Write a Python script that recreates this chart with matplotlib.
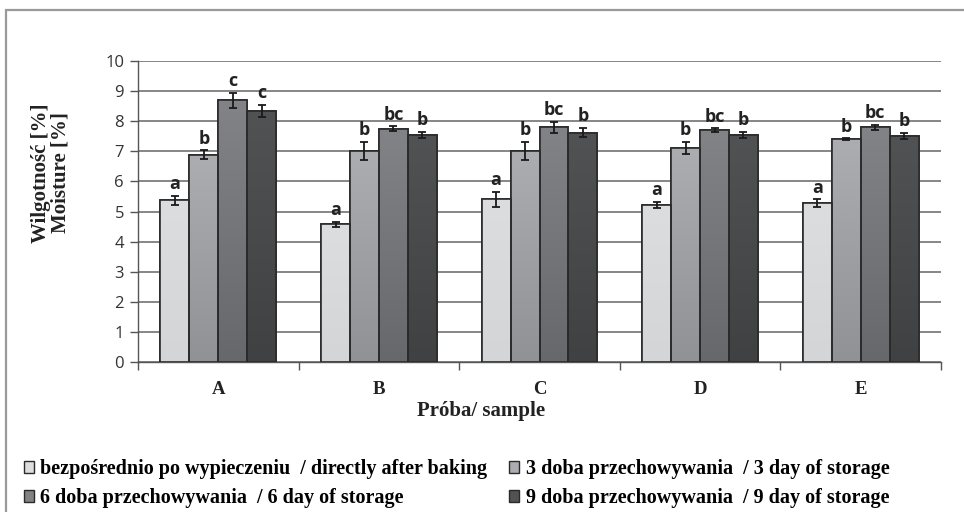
import numpy as np
import matplotlib
matplotlib.use("Agg")
import matplotlib.pyplot as plt
from matplotlib.patches import Rectangle, Patch
from matplotlib.colors import LinearSegmentedColormap

# Samples and storage stages
samples = ["A", "B", "C", "D", "E"]
series_labels = [
    "bezpośrednio po wypieczeniu  / directly after baking",
    "3 doba przechowywania  / 3 day of storage",
    "6 doba przechowywania  / 6 day of storage",
    "9 doba przechowywania  / 9 day of storage",
]

# Moisture [%] per stage (rows) and sample (columns)
moisture_0d = [5.37, 4.57, 5.40, 5.23, 5.28]
moisture_3d = [6.88, 7.00, 7.02, 7.12, 7.40]
moisture_6d = [8.70, 7.75, 7.80, 7.70, 7.80]
moisture_9d = [8.35, 7.55, 7.62, 7.55, 7.52]

sd_0d = [0.15, 0.08, 0.25, 0.10, 0.12]
sd_3d = [0.15, 0.30, 0.30, 0.20, 0.03]
sd_6d = [0.25, 0.08, 0.18, 0.06, 0.08]
sd_9d = [0.20, 0.10, 0.15, 0.10, 0.10]

letters_0d = ["a", "a", "a", "a", "a"]
letters_3d = ["b", "b", "b", "b", "b"]
letters_6d = ["c", "bc", "bc", "bc", "bc"]
letters_9d = ["c", "b", "b", "b", "b"]

values = [moisture_0d, moisture_3d, moisture_6d, moisture_9d]
errors = [sd_0d, sd_3d, sd_6d, sd_9d]
letters = [letters_0d, letters_3d, letters_6d, letters_9d]

# (top colour, bottom colour) for each series gradient
shades = [
    ("#dcdddf", "#d4d5d7"),
    ("#acadb0", "#919295"),
    ("#828386", "#67686b"),
    ("#515254", "#404143"),
]

fig = plt.figure(figsize=(9.64, 5.12), dpi=100)

# outer frame of the chart area
frame = Rectangle((6 / 964, -0.2), 1.2, 1.2 - 10 / 512,
                  transform=fig.transFigure, fill=False,
                  edgecolor="#9a9a9a", linewidth=1.6, zorder=0)
fig.patches.append(frame)

ax = fig.add_axes([138 / 964, 1 - 362 / 512, 803 / 964, 301 / 512])

x = np.arange(len(samples))
bar_w = 0.18
offsets = (np.arange(4) - 1.5) * bar_w

sans = ["Open Sans", "DejaVu Sans"]
serif = ["Liberation Serif", "DejaVu Serif"]

for i in range(4):
    cmap = LinearSegmentedColormap.from_list(f"s{i}", [shades[i][1], shades[i][0]])
    bars = ax.bar(x + offsets[i], values[i], width=bar_w, color=shades[i][0],
                  edgecolor="#2a2a2a", linewidth=1.2, zorder=3)
    for b in bars:
        x0, y0 = b.get_x(), b.get_y()
        w, h = b.get_width(), b.get_height()
        grad = np.linspace(0, 1, 64).reshape(-1, 1)
        im = ax.imshow(grad, cmap=cmap, origin="lower", aspect="auto",
                       extent=(x0, x0 + w, y0, y0 + h), zorder=3.1,
                       interpolation="bicubic")
        im.set_clip_path(b)
        ax.add_patch(Rectangle((x0, y0), w, h, fill=False,
                               edgecolor="#2a2a2a", linewidth=1.2, zorder=3.2))
    ax.errorbar(x + offsets[i], values[i], yerr=errors[i], fmt="none",
                ecolor="#1a1a1a", elinewidth=1.3, capsize=3.2, capthick=1.3,
                zorder=4)
    for xi, v, e, t in zip(x + offsets[i], values[i], errors[i], letters[i]):
        ax.annotate(t, (xi, v + e), xytext=(0, 2), textcoords="offset points",
                    ha="center", va="bottom", fontsize=13, fontweight="bold",
                    family=sans, color="#222222", zorder=5)

ax.set_xlim(-0.5, len(samples) - 0.5)
ax.set_ylim(0, 10)
ax.set_yticks(np.arange(0, 11, 1))
ax.yaxis.grid(True, color="#7d7d7d", linewidth=1.3, zorder=0)
ax.set_axisbelow(True)

for s in ["top", "right"]:
    ax.spines[s].set_visible(False)
ax.spines["left"].set_color("#555555")
ax.spines["bottom"].set_color("#555555")
ax.spines["left"].set_linewidth(1.0)
ax.spines["bottom"].set_linewidth(1.0)

ax.tick_params(axis="y", length=6, width=1.0, color="#555555", labelsize=12,
               labelcolor="#333333", pad=4)
for lab in ax.get_yticklabels():
    lab.set_family(sans)

# category labels centred, tick marks between groups
ax.set_xticks(np.arange(-0.5, len(samples) + 0.5, 1))
ax.set_xticklabels([])
ax.tick_params(axis="x", length=6, width=1.0, color="#555555")
ax.set_xticks(x, minor=True)
ax.set_xticklabels(samples, minor=True, fontsize=13.5, fontweight="bold",
                   family=serif, color="#222222")
ax.tick_params(axis="x", which="minor", length=0, pad=14)

ax.set_xlabel("Próba/ sample", fontsize=15, fontweight="bold",
              family=serif, color="#222222", labelpad=2)
ax.xaxis.label.set_x((481 - 138) / 803)

fig.text(51 / 964, 1 - 173 / 512, "Wilgotność [%]\nMoisture [%]",
         rotation=90, ha="center", va="center", fontsize=15,
         fontweight="bold", family=serif, color="#222222", linespacing=1.0)

handles = [Patch(facecolor=shades[i][0], edgecolor="#2a2a2a", linewidth=1.0)
           for i in range(4)]
order = [0, 2, 1, 3]
fig.legend([handles[k] for k in order], [series_labels[k] for k in order],
           ncol=2, loc="upper left", bbox_to_anchor=(20 / 964, 1 - 455 / 512),
           frameon=False, handlelength=0.5, handleheight=0.5,
           handletextpad=0.3, columnspacing=1.1, labelspacing=0.45,
           borderaxespad=0.0, borderpad=0.2,
           prop={"family": serif, "weight": "bold", "size": 14.5})

fig.savefig("out.png", dpi=100)
